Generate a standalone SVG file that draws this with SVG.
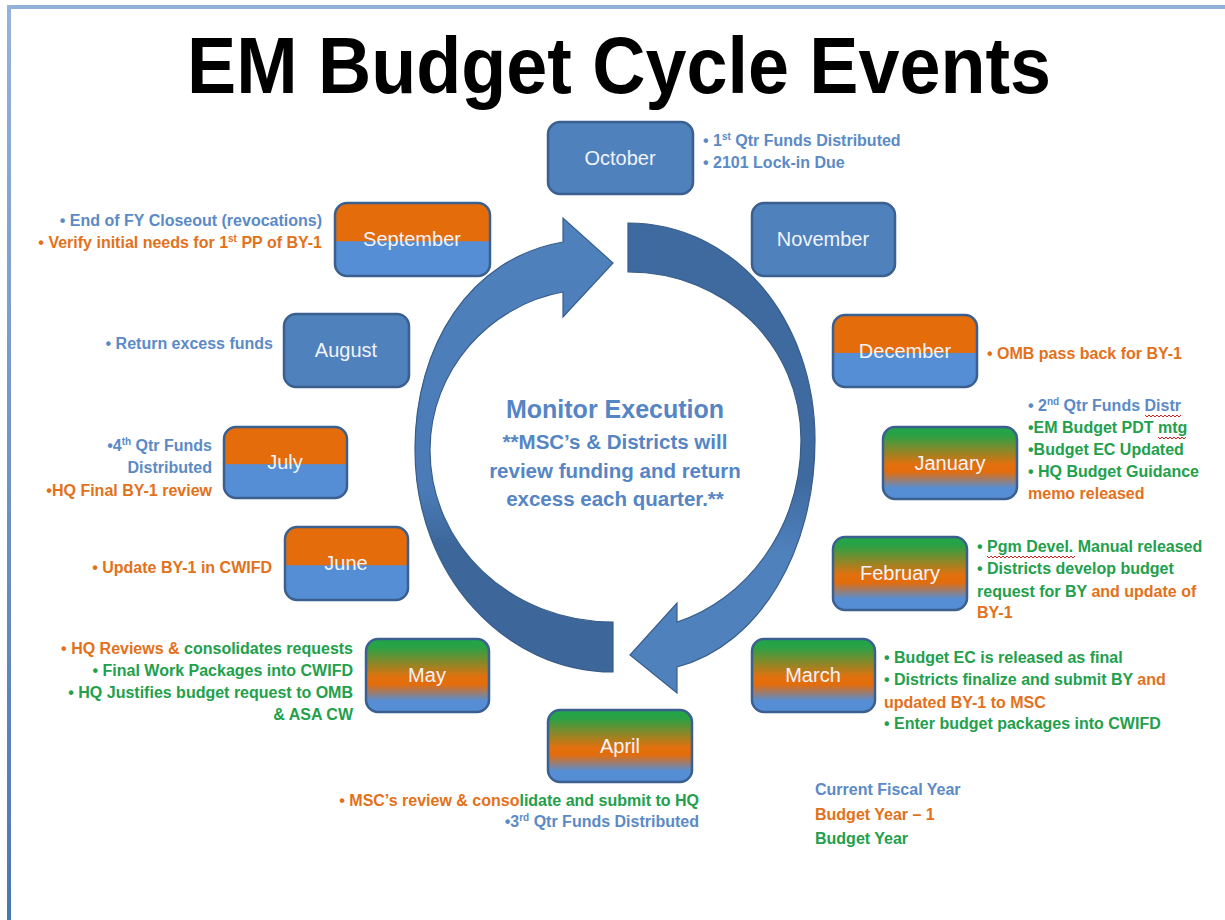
<svg xmlns="http://www.w3.org/2000/svg" width="1225" height="920" viewBox="0 0 1225 920">
<defs>
<style>
.box{stroke:#3b5f8e;stroke-width:2.5}
.solid{fill:#4f81bd}
.split{fill:url(#gSplit)}
.tri{fill:url(#gTri)}
.lbl{font-family:"Liberation Sans",Arial,sans-serif;font-size:20px;fill:#f0f4fa;text-anchor:middle}
.n{font-family:"Liberation Sans",Arial,sans-serif;font-size:16px;font-weight:bold}
.b{fill:#5b8ac6}
.o{fill:#e3711a}
.g{fill:#22a04b}
.end{text-anchor:end}
.ctr{font-family:"Liberation Sans",Arial,sans-serif;font-weight:bold;fill:#5585c5;text-anchor:middle}
.sq{fill:none;stroke:#d02020;stroke-width:1}
.arrow{stroke:#385d8a;stroke-width:1.2}
</style>
<linearGradient id="gSplit" x1="0" y1="0" x2="0" y2="1">
<stop offset="0" stop-color="#e46c0a"/>
<stop offset="0.52" stop-color="#e46c0a"/>
<stop offset="0.53" stop-color="#558ed5"/>
<stop offset="1" stop-color="#558ed5"/>
</linearGradient>
<linearGradient id="gTri" x1="0" y1="0" x2="0" y2="1">
<stop offset="0" stop-color="#1fa64a"/>
<stop offset="0.12" stop-color="#2ba144"/>
<stop offset="0.52" stop-color="#e2700e"/>
<stop offset="0.62" stop-color="#e46c0a"/>
<stop offset="0.85" stop-color="#558ed5"/>
<stop offset="1" stop-color="#558ed5"/>
</linearGradient>
<linearGradient id="gLeftArrow" gradientUnits="userSpaceOnUse" x1="0" y1="218" x2="0" y2="672">
<stop offset="0" stop-color="#4f81bd"/>
<stop offset="0.6" stop-color="#4a7bb7"/>
<stop offset="0.72" stop-color="#3d679b"/>
<stop offset="1" stop-color="#3d679b"/>
</linearGradient>
<linearGradient id="gRightArrow" gradientUnits="userSpaceOnUse" x1="0" y1="223" x2="0" y2="693">
<stop offset="0" stop-color="#3e6a9f"/>
<stop offset="0.55" stop-color="#3e6a9f"/>
<stop offset="0.7" stop-color="#4f81bd"/>
<stop offset="1" stop-color="#4f81bd"/>
</linearGradient>
<linearGradient id="gBorder" x1="0" y1="0" x2="0" y2="1">
<stop offset="0" stop-color="#95b3dc"/>
<stop offset="1" stop-color="#4a76b0"/>
</linearGradient>
</defs>

<rect x="0" y="0" width="1225" height="920" fill="#ffffff"/>
<rect x="7" y="5" width="1218" height="4" fill="#8fb0d8"/>
<rect x="7" y="5" width="4" height="915" fill="url(#gBorder)"/>

<text x="187" y="93" font-family="Liberation Sans, Arial, sans-serif" font-weight="bold" font-size="80" textLength="864" lengthAdjust="spacingAndGlyphs" fill="#000000">EM Budget Cycle Events</text>

<g id="connectors">
<path id="arrow-left" class="arrow" fill="url(#gLeftArrow)" d="M613 672 C505 672 415 575 415 450 C415 345 470 258 563 242 L563 218 L613 263 L563 317 L563 292 C490 305 430 370 430 450 C430 545 510 622 613 622 Z"/>
<path id="arrow-right" class="arrow" fill="url(#gRightArrow)" d="M628 223 C735 223 815 320 815 440 C815 550 760 645 677 667 L677 693 L630 655 L677 603 L677 622 C745 600 801 530 801 440 C801 345 725 272 628 272 Z"/>
</g>

<g id="center-text">
<text class="ctr" x="615" y="418" font-size="25">Monitor Execution</text>
<text class="ctr" x="615" y="449" font-size="20.5">**MSC’s &amp; Districts will</text>
<text class="ctr" x="615" y="478" font-size="20.5">review funding and return</text>
<text class="ctr" x="615" y="506" font-size="20.5">excess each quarter.**</text>
</g>

<g id="october">
<rect class="box solid" x="548" y="122" width="145" height="72" rx="12"/>
<text class="lbl" x="620" y="165">October</text>
<text class="n b" x="703" y="146">• 1<tspan font-size="10" dy="-6">st</tspan><tspan dy="6"> Qtr Funds Distributed</tspan></text>
<text class="n b" x="703" y="168">• 2101 Lock-in Due</text>
</g>

<g id="november">
<rect class="box solid" x="752" y="203" width="143" height="73" rx="12"/>
<text class="lbl" x="823" y="246">November</text>
</g>

<g id="december">
<rect class="box split" x="833" y="315" width="144" height="72" rx="12"/>
<text class="lbl" x="905" y="358">December</text>
<text class="n o" x="987" y="359">• OMB pass back for BY-1</text>
</g>

<g id="january">
<rect class="box tri" x="883" y="427" width="134" height="72" rx="12"/>
<text class="lbl" x="950" y="470">January</text>
<text class="n b" x="1028" y="411">• 2<tspan font-size="10" dy="-6">nd</tspan><tspan dy="6"> Qtr Funds Distr</tspan></text>
<text class="n g" x="1028" y="433">•EM Budget PDT mtg</text>
<text class="n g" x="1028" y="455">•Budget EC Updated</text>
<text class="n g" x="1028" y="477">• HQ Budget Guidance</text>
<text class="n o" x="1028" y="499">memo released</text>
<path class="sq" d="M1145 415 l2 2 l2 -2 l2 2 l2 -2 l2 2 l2 -2 l2 2 l2 -2 l2 2 l2 -2 l2 2 l2 -2 l2 2 l2 -2 l2 2 l2 -2 l2 2 l2 -2"/>
<path class="sq" d="M1158 437 l2 2 l2 -2 l2 2 l2 -2 l2 2 l2 -2 l2 2 l2 -2 l2 2 l2 -2 l2 2 l2 -2 l2 2 l2 -2"/>
</g>

<g id="february">
<rect class="box tri" x="833" y="537" width="134" height="73" rx="12"/>
<text class="lbl" x="900" y="580">February</text>
<text class="n g" x="977" y="552">• Pgm Devel. Manual released</text>
<text class="n g" x="977" y="574">• Districts  develop budget</text>
<text class="n g" x="977" y="597">request for BY<tspan class="o"> and update of</tspan></text>
<text class="n o" x="977" y="618">BY-1</text>
<path class="sq" d="M987 556 l2 2 l2 -2 l2 2 l2 -2 l2 2 l2 -2 l2 2 l2 -2 l2 2 l2 -2 l2 2 l2 -2 l2 2 l2 -2 l2 2 l2 -2 l2 2 l2 -2 l2 2 l2 -2 l2 2 l2 -2 l2 2 l2 -2 l2 2 l2 -2 l2 2 l2 -2 l2 2 l2 -2 l2 2 l2 -2 l2 2 l2 -2 l2 2 l2 -2 l2 2 l2 -2 l2 2 l2 -2 l2 2 l2 -2 l2 2 l2 -2"/>
</g>

<g id="march">
<rect class="box tri" x="752" y="639" width="123" height="73" rx="12"/>
<text class="lbl" x="813" y="682">March</text>
<text class="n g" x="884" y="663">• Budget EC is released as final</text>
<text class="n g" x="884" y="685">• Districts finalize and submit BY<tspan class="o"> and</tspan></text>
<text class="n o" x="884" y="708">updated BY-1 to MSC</text>
<text class="n g" x="884" y="729">• Enter budget packages into CWIFD</text>
</g>

<g id="april">
<rect class="box tri" x="548" y="710" width="144" height="72" rx="12"/>
<text class="lbl" x="620" y="753">April</text>
<text class="n o end" x="699" y="806">• MSC’s review &amp; conso<tspan class="g">lidate and submit to HQ</tspan></text>
<text class="n b end" x="699" y="827">•3<tspan font-size="10" dy="-6">rd</tspan><tspan dy="6"> Qtr Funds Distributed</tspan></text>
</g>

<g id="may">
<rect class="box tri" x="366" y="639" width="123" height="73" rx="12"/>
<text class="lbl" x="427" y="682">May</text>
<text class="n o end" x="353" y="654">• HQ Reviews &amp;<tspan class="g"> consolidates requests</tspan></text>
<text class="n g end" x="353" y="676">• Final Work Packages into CWIFD</text>
<text class="n g end" x="353" y="698">• HQ Justifies budget request to OMB</text>
<text class="n g end" x="353" y="720">&amp; ASA CW</text>
</g>

<g id="june">
<rect class="box split" x="285" y="527" width="123" height="73" rx="12"/>
<text class="lbl" x="346" y="570">June</text>
<text class="n o end" x="272" y="573">• Update BY-1 in CWIFD</text>
</g>

<g id="july">
<rect class="box split" x="224" y="427" width="123" height="71" rx="12"/>
<text class="lbl" x="285" y="469">July</text>
<text class="n b end" x="212" y="451">•4<tspan font-size="10" dy="-6">th</tspan><tspan dy="6"> Qtr Funds</tspan></text>
<text class="n b end" x="212" y="473">Distributed</text>
<text class="n o end" x="212" y="496">•HQ Final BY-1 review</text>
</g>

<g id="august">
<rect class="box solid" x="284" y="314" width="125" height="73" rx="12"/>
<text class="lbl" x="346" y="357">August</text>
<text class="n b end" x="273" y="349">• Return excess funds</text>
</g>

<g id="september">
<rect class="box split" x="335" y="203" width="155" height="73" rx="12"/>
<text class="lbl" x="412" y="246">September</text>
<text class="n b end" x="322" y="226">• End of FY Closeout (revocations)</text>
<text class="n o end" x="322" y="248">• Verify initial needs for 1<tspan font-size="10" dy="-6">st</tspan><tspan dy="6"> PP of BY-1</tspan></text>
</g>

<g id="legend">
<text class="n b" x="815" y="795" font-size="17">Current Fiscal Year</text>
<text class="n o" x="815" y="820" font-size="17">Budget Year – 1</text>
<text class="n g" x="815" y="844" font-size="17">Budget Year</text>
</g>
</svg>
